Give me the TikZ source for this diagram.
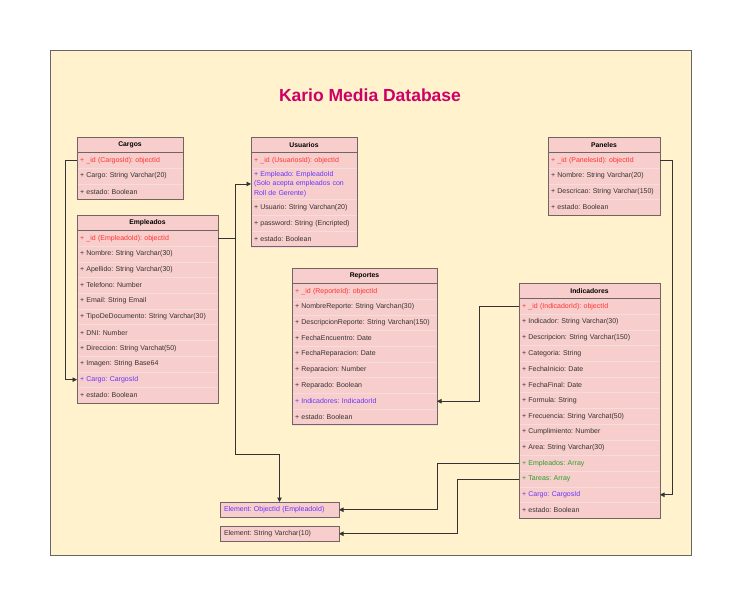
\documentclass[tikz,border=0pt]{standalone}
\usepackage{fontspec}
\setmainfont{Liberation Sans}
\frenchspacing
\usetikzlibrary{arrows.meta,calc,positioning}
\definecolor{kmPaper}{RGB}{255,242,204}
\definecolor{kmFrame}{RGB}{102,102,102}
\definecolor{kmPink}{RGB}{248,206,204}
\definecolor{kmEdge}{RGB}{112,100,100}
\definecolor{kmSep}{RGB}{244,222,221}
\definecolor{kmInk}{RGB}{51,51,51}
\definecolor{kmRed}{RGB}{255,51,51}
\definecolor{kmBlue}{RGB}{102,51,255}
\definecolor{kmGreen}{RGB}{40,160,40}
\definecolor{kmTitle}{RGB}{204,0,102}
\tikzset{
  tblhead/.style={draw=kmEdge,fill=kmPink,line width=0.8pt,anchor=north west,
    inner sep=0pt,outer sep=0pt,minimum height=15.5pt,
    font=\fontsize{6.8}{8}\selectfont\bfseries,text=black},
  tblrow/.style={draw=kmSep,fill=kmPink,line width=0.5pt,anchor=north west,
    inner xsep=3pt,inner ysep=3pt,outer sep=0pt,minimum height=15.7pt,
    align=left,font=\fontsize{7}{9.5}\selectfont},
  elbox/.style={draw=kmEdge,fill=kmPink,line width=1pt,anchor=north west,
    inner xsep=4pt,outer sep=0pt,minimum width=119pt,minimum height=15.5pt,
    text width=111pt,align=left,font=\fontsize{7}{8}\selectfont},
  link/.style={draw=kmInk,line width=0.8pt,-{Triangle[length=4.5pt,width=4.5pt]}},
}
\newcommand{\dbtable}[6]{%
  \pgfmathsetmacro{\tblw}{#4-6}
  \node[tblhead,minimum width=#4pt] (#1-0) at (#2,#3) {#5};
  \foreach [count=\i] \c/\t in {#6}{
    \pgfmathtruncatemacro{\prev}{\i-1}
    \node[tblrow,text width=\tblw pt,text=\c] (#1-\i) at (#1-\prev.south west) {\t};
    \xdef\lastrow{\i}
  }
  \draw[kmEdge,line width=0.8pt] (#1-0.north west) rectangle (#1-\lastrow.south east)
    (#1-0.south west) -- (#1-0.south east);
}

\begin{document}
\begin{tikzpicture}[x=1pt,y=-1pt]
  \useasboundingbox (0,0) rectangle (742,606);
  \draw[fill=kmPaper,draw=kmFrame,line width=0.8pt] (50,50) rectangle (691,555);
  \node[font=\fontsize{17.5}{20}\selectfont\bfseries,text=kmTitle] (title) at (370,95) {Kario Media Database};

  \dbtable{cargos}{77}{137}{106}{Cargos}{
    kmRed/{+ \_id (CargosId): objectId},
    kmInk/{+ Cargo: String Varchar(20)},
    kmInk/{+ estado: Boolean}}
  \dbtable{empleados}{77}{215}{141}{Empleados}{
    kmRed/{+ \_id (EmpleadoId): objectId},
    kmInk/{+ Nombre: String Varchar(30)},
    kmInk/{+ Apellido: String Varchar(30)},
    kmInk/{+ Telefono: Number},
    kmInk/{+ Email: String Email},
    kmInk/{+ TipoDeDocumento: String Varchar(30)},
    kmInk/{+ DNI: Number},
    kmInk/{+ Direccion: String Varchat(50)},
    kmInk/{+ Imagen: String Base64},
    kmBlue/{+ Cargo: CargosId},
    kmInk/{+ estado: Boolean}}
  \dbtable{usuarios}{251}{137}{106}{Usuarios}{
    kmRed/{+ \_id (UsuariosId): objectId},
    kmBlue/{+ Empleado: EmpleadoId\\(Solo acepta empleados con\\Roll de Gerente)},
    kmInk/{+ Usuario: String Varchan(20)},
    kmInk/{+ password: String (Encripted)},
    kmInk/{+ estado: Boolean}}
  \dbtable{paneles}{548}{137}{112}{Paneles}{
    kmRed/{+ \_id (PanelesId): objectId},
    kmInk/{+ Nombre: String Varchar(20)},
    kmInk/{+ Descricao: String Varchar(150)},
    kmInk/{+ estado: Boolean}}
  \dbtable{reportes}{292}{268}{145}{Reportes}{
    kmRed/{+ \_id (ReporteId): objectId},
    kmInk/{+ NombreReporte: String Varchan(30)},
    kmInk/{+ DescripcionReporte: String Varchan(150)},
    kmInk/{+ FechaEncuentro: Date},
    kmInk/{+ FechaReparacion: Date},
    kmInk/{+ Reparacion: Number},
    kmInk/{+ Reparado: Boolean},
    kmBlue/{+ Indicadores: IndicadorId},
    kmInk/{+ estado: Boolean}}
  \dbtable{indicadores}{519}{283}{141}{Indicadores}{
    kmRed/{+ \_id (IndicadorId): objectId},
    kmInk/{+ Indicador: String Varchar(30)},
    kmInk/{+ Descripcion: String Varchar(150)},
    kmInk/{+ Categoria: String},
    kmInk/{+ FechaInicio: Date},
    kmInk/{+ FechaFinal: Date},
    kmInk/{+ Formula: String},
    kmInk/{+ Frecuencia: String Varchat(50)},
    kmInk/{+ Cumplimiento: Number},
    kmInk/{+ Area: String Varchar(30)},
    kmGreen/{+ Empleados: Array},
    kmGreen/{+ Tareas: Array},
    kmBlue/{+ Cargo: CargosId},
    kmInk/{+ estado: Boolean}}

  \node[elbox,text=kmBlue] (elobj) at (220,502) {Element: ObjectId (EmpleadoId)};
  \node[elbox,text=kmInk] (elstr) at (220,526) {Element: String Varchar(10)};

  \draw[link] (cargos-1.west) -- ++(-12,0) |- (empleados-10.west);
  \draw[link] (empleados-1.east) -- ++(17,0) coordinate (empjoin) |- (usuarios-2.west);
  \draw[link] (empjoin) -- ++(0,216) -| (elobj.north);
  \draw[link] (indicadores-1.west) -- ++(-40,0) |- (reportes-8.east);
  \draw[link] (paneles-1.east) -- ++(12,0) |- (indicadores-13.east);
  \draw[link] (indicadores-11.west) -- ++(-82,0) |- (elobj.east);
  \draw[link] (indicadores-12.west) -- ++(-62,0) |- (elstr.east);
\end{tikzpicture}
\end{document}
